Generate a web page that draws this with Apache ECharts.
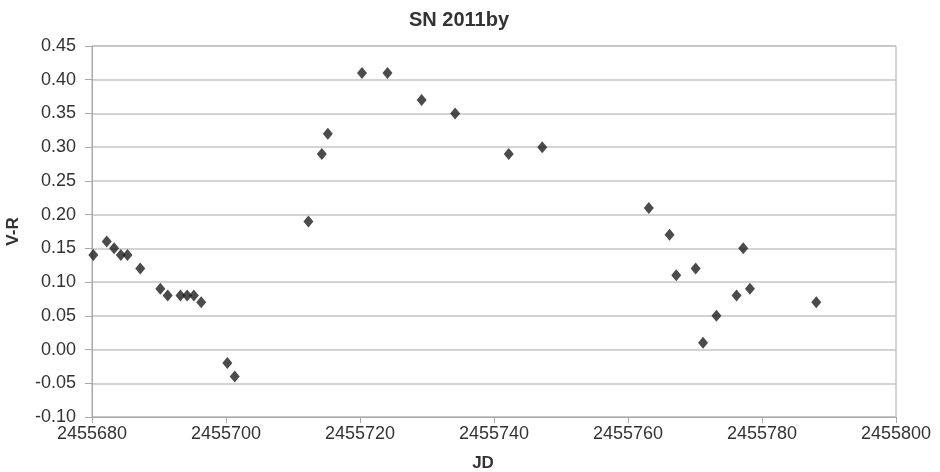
<!DOCTYPE html>
<html>
<head>
<meta charset="utf-8">
<script src="https://cdn.jsdelivr.net/npm/echarts@6/dist/echarts.min.js"></script>
<style>
html,body{margin:0;padding:0;background:#fff;}
#chart{width:940px;height:472px;}
</style>
</head>
<body>
<div id="chart"></div>
<script>
var jd = [2455680.2, 2455682.2, 2455683.3, 2455684.3, 2455685.3, 2455687.2, 2455690.2, 2455691.3, 2455693.2, 2455694.2, 2455695.2, 2455696.3, 2455700.2, 2455701.3,
  2455712.3, 2455714.3, 2455715.2, 2455720.3, 2455724.1, 2455729.2, 2455734.2, 2455742.2, 2455747.2,
  2455763.1, 2455766.2, 2455767.2, 2455770.1, 2455771.2, 2455773.2, 2455776.2, 2455777.2, 2455778.2, 2455788.1];
var vr = [0.14, 0.16, 0.15, 0.14, 0.14, 0.12, 0.09, 0.08, 0.08, 0.08, 0.08, 0.07, -0.02, -0.04,
  0.19, 0.29, 0.32, 0.41, 0.41, 0.37, 0.35, 0.29, 0.30,
  0.21, 0.17, 0.11, 0.12, 0.01, 0.05, 0.08, 0.15, 0.09, 0.07];
var titleText = 'SN 2011by';
var xName = 'JD';
var yName = 'V-R';

var pts = jd.map(function (x, i) { return [x, vr[i]]; });
var chart = echarts.init(document.getElementById('chart'), null, {renderer: 'canvas'});
var txt = '#333333';
chart.setOption({
  animation: false,
  backgroundColor: '#ffffff',
  title: {
    text: titleText, left: 404, top: 5,
    textStyle: {fontFamily: 'Liberation Sans', fontWeight: 'bold', fontSize: 20, color: txt}
  },
  grid: {left: 92, right: 44, top: 46, bottom: 55, outerBoundsMode: 'none', containLabel: false,
    show: true, borderColor: '#a8a8a8', borderWidth: 1, backgroundColor: 'transparent'},
  xAxis: {
    type: 'value', min: 2455680, max: 2455800, interval: 20,
    name: xName, nameLocation: 'middle', nameGap: 38,
    nameTextStyle: {fontFamily: 'Liberation Sans', fontWeight: 'bold', fontSize: 17, color: txt, padding: [0, 22, 0, 0]},
    axisLine: {show: true, onZero: false, lineStyle: {color: '#a8a8a8', width: 1}},
    axisTick: {show: true, length: 6, lineStyle: {color: '#a8a8a8'}},
    axisLabel: {fontFamily: 'Liberation Sans', fontSize: 18, color: txt, margin: 8, formatter: function (v) { return String(v); }},
    splitLine: {show: false}
  },
  yAxis: {
    type: 'value', min: -0.10, max: 0.45, interval: 0.05,
    name: yName, nameLocation: 'middle', nameGap: 70, nameRotate: 90,
    nameTextStyle: {fontFamily: 'Liberation Sans', fontWeight: 'bold', fontSize: 17, color: txt},
    axisLine: {show: true, onZero: false, lineStyle: {color: '#a8a8a8', width: 1}},
    axisTick: {show: true, length: 7, lineStyle: {color: '#a8a8a8'}},
    axisLabel: {fontFamily: 'Liberation Sans', fontSize: 18, color: txt, margin: 16, formatter: function (v) { return v.toFixed(2); }},
    splitLine: {show: true, lineStyle: {color: '#c4c4c4', width: 1.5}}
  },
  series: [{
    type: 'scatter', data: pts, symbol: 'diamond', symbolSize: [10, 12],
    itemStyle: {color: '#1e1e1e'}
  }]
});
</script>
</body>
</html>
